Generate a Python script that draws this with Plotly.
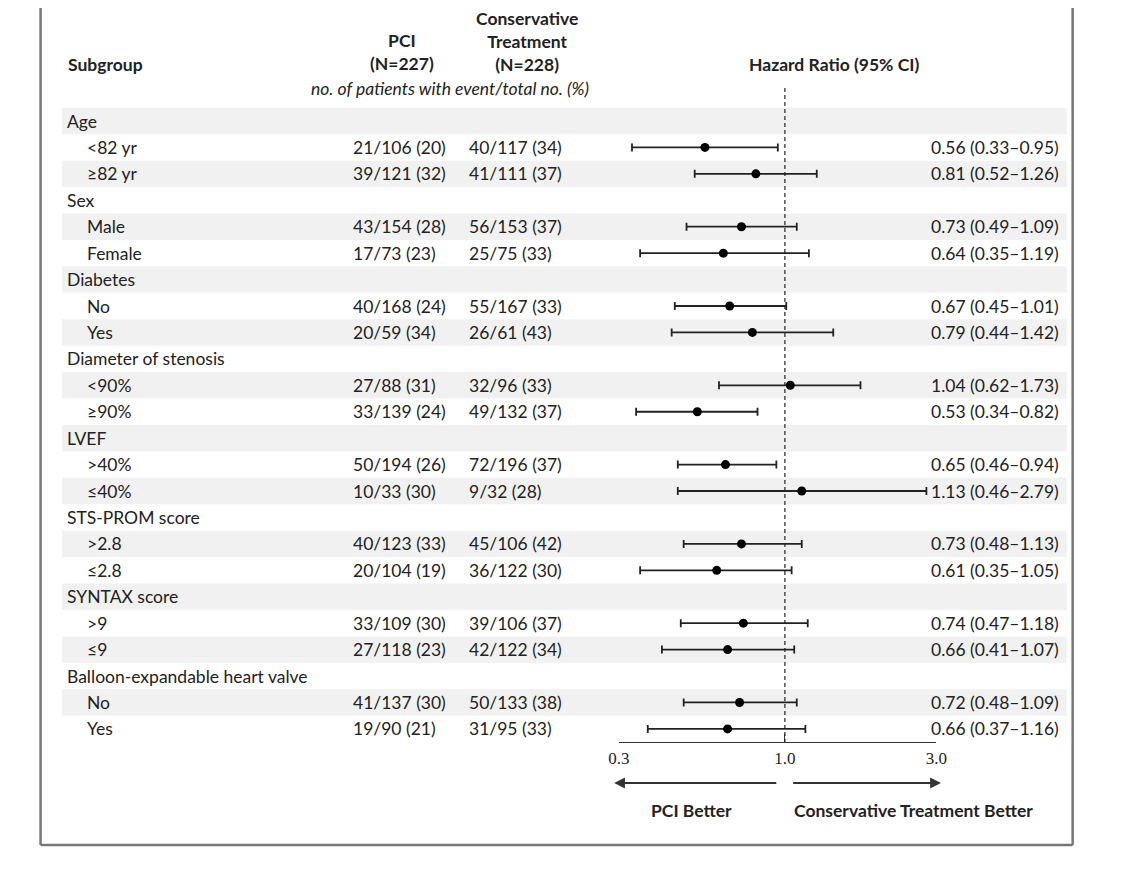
import numpy as np
import plotly.graph_objects as go

# rows, top to bottom
labels = ["Age", "<82 yr", "≥82 yr", "Sex", "Male", "Female", "Diabetes", "No", "Yes",
          "Diameter of stenosis", "<90%", "≥90%", "LVEF", ">40%", "≤40%",
          "STS-PROM score", ">2.8", "≤2.8", "SYNTAX score", ">9", "≤9",
          "Balloon-expandable heart valve", "No", "Yes"]
is_header = [True, False, False, True, False, False, True, False, False,
             True, False, False, True, False, False, True, False, False,
             True, False, False, True, False, False]
pci = ["", "21/106 (20)", "39/121 (32)", "", "43/154 (28)", "17/73 (23)", "", "40/168 (24)", "20/59 (34)",
       "", "27/88 (31)", "33/139 (24)", "", "50/194 (26)", "10/33 (30)", "", "40/123 (33)", "20/104 (19)",
       "", "33/109 (30)", "27/118 (23)", "", "41/137 (30)", "19/90 (21)"]
cons = ["", "40/117 (34)", "41/111 (37)", "", "56/153 (37)", "25/75 (33)", "", "55/167 (33)", "26/61 (43)",
        "", "32/96 (33)", "49/132 (37)", "", "72/196 (37)", "9/32 (28)", "", "45/106 (42)", "36/122 (30)",
        "", "39/106 (37)", "42/122 (34)", "", "50/133 (38)", "31/95 (33)"]
hr = [None, 0.56, 0.81, None, 0.73, 0.64, None, 0.67, 0.79, None, 1.04, 0.53, None, 0.65, 1.13,
      None, 0.73, 0.61, None, 0.74, 0.66, None, 0.72, 0.66]
lo = [None, 0.33, 0.52, None, 0.49, 0.35, None, 0.45, 0.44, None, 0.62, 0.34, None, 0.46, 0.46,
      None, 0.48, 0.35, None, 0.47, 0.41, None, 0.48, 0.37]
hi = [None, 0.95, 1.26, None, 1.09, 1.19, None, 1.01, 1.42, None, 1.73, 0.82, None, 0.94, 2.79,
      None, 1.13, 1.05, None, 1.18, 1.07, None, 1.09, 1.16]
x_ticks = [0.3, 1.0, 3.0]

FONT = "Lato"
INK = "#222222"
OFF = 8  # page body margin
W, H = 1124 - 2 * OFF, 874 - 2 * OFF
top_px, step_px = 121 - OFF, 26.43


def yv(px):
    return (px - OFF - top_px) / step_px


def xp(px):
    return (px - OFF) / W


def yp(px):
    return 1 - (px - OFF) / H


rows = list(range(len(labels)))
pr = [r for r in rows if hr[r] is not None]

fig = go.Figure(go.Scatter(
    x=[hr[r] for r in pr], y=pr, mode="markers",
    marker=dict(color="black", size=9),
    error_x=dict(type="data", symmetric=False,
                 array=[hi[r] - hr[r] for r in pr],
                 arrayminus=[hr[r] - lo[r] for r in pr],
                 color="#222", thickness=1.8, width=4),
    hoverinfo="skip", showlegend=False))

shapes = []
for r in rows:
    if r % 2 == 0:
        shapes.append(dict(type="rect", xref="paper", yref="y", x0=xp(52), x1=xp(1077),
                           y0=r - 0.5, y1=r + 0.5, fillcolor="#f1f1f1", line_width=0, layer="below"))
shapes.append(dict(type="line", xref="x", yref="y", x0=1, x1=1, y0=yv(88), y1=yv(742),
                   line=dict(color="#222", width=1.2, dash="4px,3px")))
# frame
frame = dict(color="#777", width=2.5)
shapes += [
    dict(type="line", xref="paper", yref="paper", x0=xp(30), x1=xp(30), y0=1.02, y1=yp(845), line=frame),
    dict(type="line", xref="paper", yref="paper", x0=xp(30), x1=xp(1083), y0=yp(845), y1=yp(845), line=frame),
    dict(type="line", xref="paper", yref="paper", x0=xp(1083), x1=xp(1083), y0=1.02, y1=yp(845), line=frame),
]

ann = []
f = dict(family=FONT, size=17.5, color=INK)
for r in rows:
    ann.append(dict(x=xp(55 if is_header[r] else 75), y=r, xref="paper", yref="y", text=labels[r],
                    xanchor="left", showarrow=False, font=f))
    if pci[r]:
        ann.append(dict(x=xp(347), y=r, xref="paper", yref="y", text=pci[r], xanchor="left", showarrow=False, font=f))
        ann.append(dict(x=xp(465), y=r, xref="paper", yref="y", text=cons[r], xanchor="left", showarrow=False, font=f))
    if hr[r] is not None:
        ann.append(dict(x=xp(1071), y=r, xref="paper", yref="y", xanchor="right", showarrow=False, font=f,
                        text=f"{hr[r]:.2f} ({lo[r]:.2f}–{hi[r]:.2f})"))

hf = dict(family=FONT, size=17.5, color=INK)
heads = [
    dict(x=xp(56), y=yv(64), text="<b>Subgroup</b>", xanchor="left"),
    dict(x=xp(399), y=yv(52), text="<b>PCI<br>(N=227)</b>"),
    dict(x=xp(526), y=yv(41), text="<b>Conservative<br>Treatment<br>(N=228)</b>"),
    dict(x=xp(448), y=yv(88), text="<i>no. of patients with event/total no. (%)</i>"),
    dict(x=xp(840), y=yv(64), text="<b>Hazard Ratio (95% CI)</b>"),
    dict(x=xp(694), y=yv(810), text="<b>PCI Better</b>"),
    dict(x=xp(921), y=yv(810), text="<b>Conservative Treatment Better</b>"),
]
for a in heads:
    a.update(xref="paper", yref="y", showarrow=False, font=hf)
    a.setdefault("xanchor", "center")
ann += heads

# direction arrows
for tip, tail in [(0.29, 0.95), (3.1, 1.05)]:
    ann.append(dict(x=np.log10(tip), y=yv(783), ax=np.log10(tail), ay=yv(783), xref="x", yref="y",
                    axref="x", ayref="y", text="", showarrow=True, arrowhead=2, arrowsize=1.2,
                    arrowwidth=1.8, arrowcolor="#333"))

fig.update_layout(
    width=W, height=H, margin=dict(l=0, r=0, t=0, b=0),
    paper_bgcolor="white", plot_bgcolor="rgba(0,0,0,0)",
    shapes=shapes, annotations=ann,
    xaxis=dict(type="log", range=[np.log10(0.3), np.log10(3.0)], domain=[xp(620), xp(944)],
               anchor="free", position=yp(742), showline=True, linecolor="#333", linewidth=1.3,
               ticks="inside", ticklen=8, tickwidth=1.3, tickcolor="#333",
               tickvals=x_ticks, ticktext=[f"{v:.1f}" for v in x_ticks],
               tickfont=dict(family="Liberation Serif", size=17, color=INK),
               showgrid=False, zeroline=False, fixedrange=True),
    yaxis=dict(range=[yv(874 - OFF), yv(OFF)], domain=[0, 1], visible=False, fixedrange=True),
)

fig.write_html("out.html", config={"displayModeBar": False})
